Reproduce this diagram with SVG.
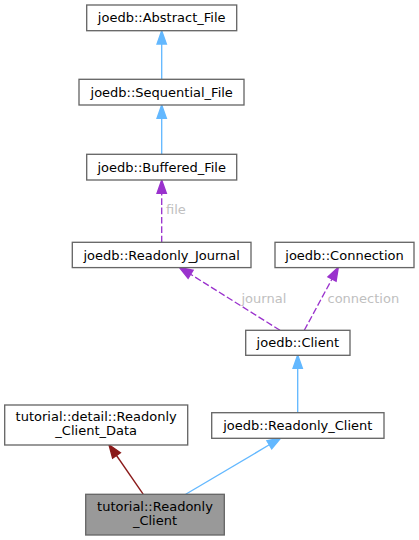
<svg xmlns="http://www.w3.org/2000/svg" width="419" height="540" viewBox="0 0 419 540">
<style>
.node rect{fill:#ffffff;stroke:#666666;stroke-width:1.33}
.node.cur rect{fill:#999999;stroke:#666666}
.node text{font-family:"DejaVu Sans",sans-serif;font-size:13px;fill:#000000;text-anchor:middle}
.lbl{font-family:"DejaVu Sans",sans-serif;font-size:13px;fill:#c0c0c0}
.blue{stroke:#63b8ff;fill:none;stroke-width:1.33}
.red{stroke:#8b1a1a;fill:none;stroke-width:1.33}
.purp{stroke:#9a32cd;fill:none;stroke-width:1.33;stroke-dasharray:6.67,2.67}
.hb{fill:#63b8ff;stroke:#63b8ff;stroke-width:1.33}
.hr{fill:#8b1a1a;stroke:#8b1a1a;stroke-width:1.33}
.hp{fill:#9a32cd;stroke:#9a32cd;stroke-width:1.33}
</style>
<rect width="419" height="540" fill="#ffffff"/>
<g id="edges">
<path class="blue" d="M161.7,79.3V44"/>
<polygon class="hb" points="161.7,30.7 157,44 166.4,44"/>
<path class="blue" d="M161.7,154.3V118.3"/>
<polygon class="hb" points="161.7,105 157,118.3 166.4,118.3"/>
<path class="purp" d="M161.7,242.3V193.3"/>
<polygon class="hp" points="161.7,180 157,193.3 166.4,193.3"/>
<text class="lbl" x="166" y="214">file</text>
<path class="purp" d="M280,330.3L190.6,274.3"/>
<polygon class="hp" points="179.3,267.3 193.1,270.3 188.1,278.3"/>
<text class="lbl" x="241.5" y="303">journal</text>
<path class="purp" d="M304.3,330.3L332,279"/>
<polygon class="hp" points="338.3,267.3 336.1,281.2 327.9,276.8"/>
<text class="lbl" x="327.5" y="303">connection</text>
<path class="blue" d="M297.7,412.7V368.3"/>
<polygon class="hb" points="297.7,355 293,368.3 302.4,368.3"/>
<path class="red" d="M143.3,494.3L116.5,455.5"/>
<polygon class="hr" points="109,444.8 120.4,452.8 112.6,458.1"/>
<path class="blue" d="M185.7,494.3L269.3,444.8"/>
<polygon class="hb" points="280.7,438 271.7,448.8 266.9,440.8"/>
</g>
<g id="abstract_file" class="node"><rect x="86.7" y="5" width="150" height="25.7"/><text x="161.7" y="22">joedb::Abstract_File</text></g>
<g id="sequential_file" class="node"><rect x="79" y="79.3" width="165" height="25.7"/><text x="161.7" y="96.5">joedb::Sequential_File</text></g>
<g id="buffered_file" class="node"><rect x="86.7" y="154.3" width="150" height="25.7"/><text x="161.7" y="171.5">joedb::Buffered_File</text></g>
<g id="readonly_journal" class="node"><rect x="72.3" y="242.3" width="178.7" height="25.3"/><text x="161.7" y="259.5">joedb::Readonly_Journal</text></g>
<g id="connection" class="node"><rect x="275" y="242.3" width="139" height="25.3"/><text x="344.5" y="259.5">joedb::Connection</text></g>
<g id="client" class="node"><rect x="245.7" y="330.3" width="104.3" height="25"/><text x="297.8" y="347">joedb::Client</text></g>
<g id="readonly_client_data" class="node"><rect x="4.7" y="405" width="183" height="40"/><text x="96.2" y="421">tutorial::detail::Readonly</text><text x="96.2" y="435.3">_Client_Data</text></g>
<g id="joedb_readonly_client" class="node"><rect x="211.7" y="412.7" width="172.3" height="25.6"/><text x="297.8" y="430">joedb::Readonly_Client</text></g>
<g id="tutorial_readonly_client" class="node cur"><rect x="85.7" y="494.3" width="138.6" height="40.7"/><text x="155" y="511">tutorial::Readonly</text><text x="155" y="524.8">_Client</text></g>
</svg>
